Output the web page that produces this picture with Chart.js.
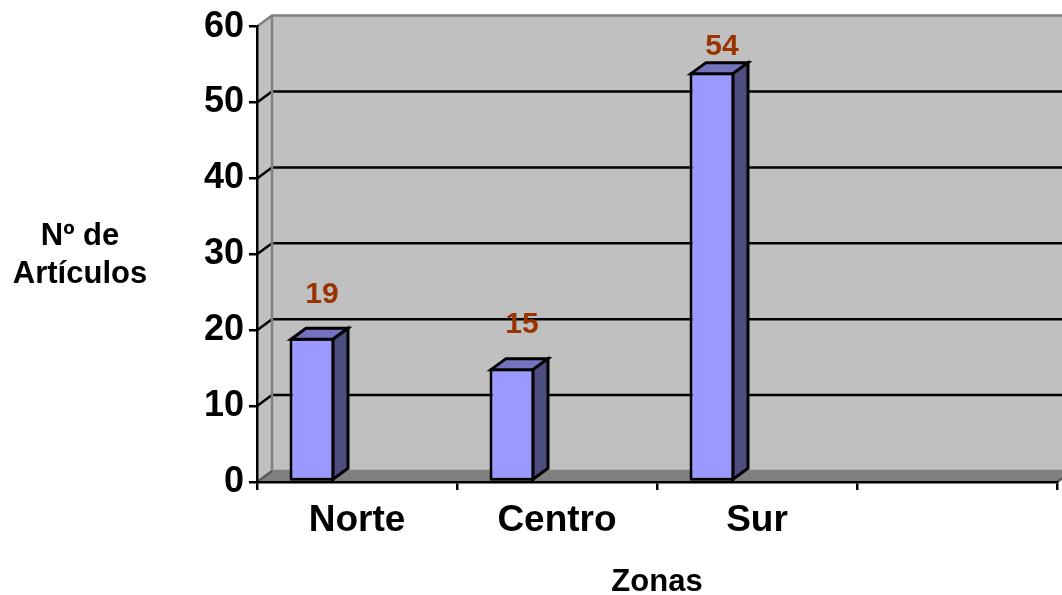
<!DOCTYPE html>
<html><head><meta charset="utf-8">
<script src="https://cdn.jsdelivr.net/npm/chart.js@4.4.0/dist/chart.umd.min.js"></script>
<style>html,body{margin:0;padding:0;background:#fff}#wrap{width:1062px;height:595px;position:relative}</style>
</head><body><div id="wrap"><canvas id="c"></canvas></div>
<script>
// ---- data ----
const categories = ['Norte', 'Centro', 'Sur', ''];
const articulos = [19, 15, 54, null];
const yTicks = [0, 10, 20, 30, 40, 50, 60];
const yTitleLines = ['Nº de', 'Artículos'];
const xTitle = 'Zonas';

// ---- style ----
const FONT = '"Liberation Sans", Arial, sans-serif';
const DX = 15, DY = 11;          // 3D depth offset
const SHIFT = 0.225;             // bar offset inside category (fraction of category width)

function poly(ctx, pts) {
  ctx.beginPath();
  ctx.moveTo(pts[0], pts[1]);
  for (let i = 2; i < pts.length; i += 2) ctx.lineTo(pts[i], pts[i + 1]);
  ctx.closePath();
}

const threeD = {
  id: 'threeD',
  afterDatasetsUpdate(chart) {
    const xs = chart.scales.x;
    const w = xs.width / xs.ticks.length;
    chart.getDatasetMeta(0).data.forEach(el => { el.x -= w * SHIFT; });
  },
  beforeDraw(chart) {
    const {ctx, chartArea: a, scales: {y}} = chart;
    const L = a.left, R = a.right, T = a.top, B = a.bottom;
    ctx.save();
    ctx.fillStyle = '#c0c0c0';
    poly(ctx, [L, T, L + DX, T - DY, L + DX, B - DY, L, B]); ctx.fill();
    ctx.fillRect(L + DX, T - DY, R - L, B - T);
    ctx.fillStyle = '#808080';
    poly(ctx, [L, B, L + DX, B - DY, R + DX, B - DY, R, B]); ctx.fill();
    ctx.strokeStyle = '#000'; ctx.lineWidth = 2.5;
    y.ticks.forEach(t => {
      if (t.value === y.min || t.value === y.max) return;
      const py = y.getPixelForValue(t.value);
      ctx.beginPath();
      ctx.moveTo(L, py); ctx.lineTo(L + DX, py - DY); ctx.lineTo(R + DX, py - DY);
      ctx.stroke();
    });
    ctx.strokeStyle = '#808080'; ctx.lineWidth = 2.5;
    ctx.beginPath();
    ctx.moveTo(L, T); ctx.lineTo(L + DX, T - DY); ctx.lineTo(R + DX, T - DY);
    ctx.moveTo(L + DX, T - DY); ctx.lineTo(L + DX, B - DY); ctx.lineTo(R + DX, B - DY);
    ctx.stroke();
    ctx.strokeStyle = '#5a5a5a';
    ctx.beginPath();
    ctx.moveTo(L, B); ctx.lineTo(L + DX, B - DY);
    ctx.moveTo(R, B); ctx.lineTo(R + DX, B - DY);
    ctx.stroke();
    ctx.restore();
  },
  afterDatasetsDraw(chart) {
    const {ctx, chartArea: a} = chart;
    const meta = chart.getDatasetMeta(0);
    ctx.save();
    ctx.lineWidth = 3; ctx.strokeStyle = '#000'; ctx.lineJoin = 'miter';
    meta.data.forEach((el, i) => {
      if (articulos[i] == null) return;
      const {x, y, base, width} = el.getProps(['x', 'y', 'base', 'width'], true);
      const l = x - width / 2 + 1.5, r = x + width / 2 - 1.5;
      const yt = y + 1.5, yb = base - 1.5;
      ctx.fillStyle = '#7373bf';
      poly(ctx, [l, yt, l + DX, yt - DY, r + DX, yt - DY, r, yt]);
      ctx.fill(); ctx.stroke();
      ctx.fillStyle = '#4d4d80';
      poly(ctx, [r, yt, r + DX, yt - DY, r + DX, yb - DY, r, yb]);
      ctx.fill(); ctx.stroke();
      ctx.fillStyle = '#993300';
      ctx.font = 'bold 30px ' + FONT;
      ctx.textAlign = 'center'; ctx.textBaseline = 'alphabetic';
      ctx.fillText(String(articulos[i]), x + 10, Math.max(y - 35, a.top + 28));
    });
    ctx.restore();
  },
  afterDraw(chart) {
    const ctx = chart.ctx;
    ctx.save();
    ctx.fillStyle = '#000';
    ctx.font = 'bold 31px ' + FONT;
    ctx.textAlign = 'center'; ctx.textBaseline = 'alphabetic';
    ctx.fillText(yTitleLines[0], 80, 245);
    ctx.fillText(yTitleLines[1], 80, 283);
    ctx.restore();
  }
};

Chart.defaults.font.family = FONT;

new Chart(document.getElementById('c'), {
  type: 'bar',
  data: {
    labels: categories,
    datasets: [{
      data: articulos,
      backgroundColor: '#9999ff',
      borderColor: '#000',
      borderWidth: 3,
      borderSkipped: false,
      categoryPercentage: 1,
      barPercentage: 0.225
    }]
  },
  options: {
    responsive: true,
    maintainAspectRatio: false,
    animation: false,
    devicePixelRatio: 1,
    layout: {padding: {top: 26, right: 5, left: 0, bottom: 0}},
    plugins: {legend: {display: false}, tooltip: {enabled: false}},
    scales: {
      x: {
        grid: {drawOnChartArea: false, offset: true, color: '#000', lineWidth: 2.5, tickLength: 8},
        border: {color: '#000', width: 2.5},
        ticks: {color: '#000', font: {size: 37, weight: 'bold'}, padding: 9, maxRotation: 0, autoSkip: false},
        title: {display: true, text: xTitle, color: '#000', font: {size: 31, weight: 'bold'}, padding: {top: 0, bottom: -6}},
        afterFit(s) { s.height = 113; }
      },
      y: {
        min: 0, max: 60,
        afterBuildTicks(s) { s.ticks = yTicks.map(v => ({value: v})); },
        ticks: {color: '#000', font: {size: 36, weight: 'bold'}, padding: 5},
        grid: {drawOnChartArea: false, color: '#000', lineWidth: 2.5, tickLength: 8},
        border: {color: '#000', width: 2.5},
        afterFit(s) { s.width = 257; }
      }
    }
  },
  plugins: [threeD]
});
</script>
</body></html>
